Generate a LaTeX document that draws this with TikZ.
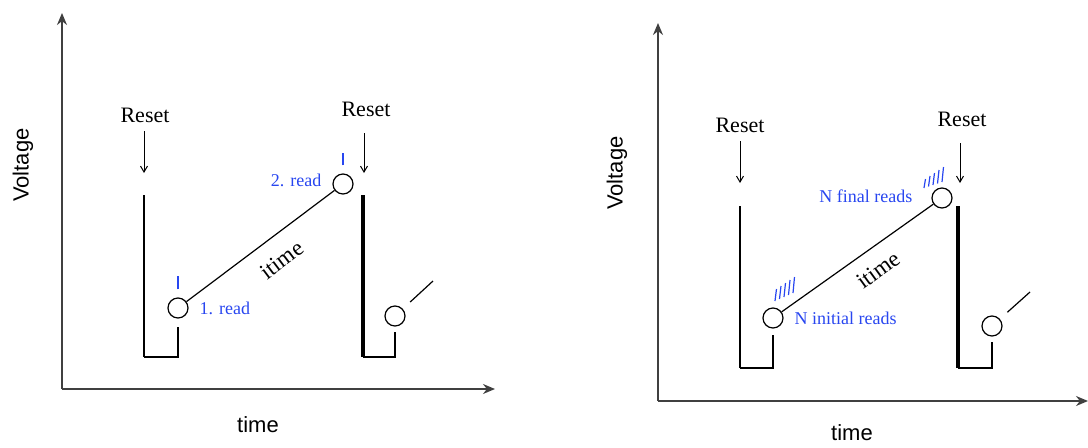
\documentclass[tikz,border=0pt]{standalone}
\usepackage{fontspec}
\setmainfont{Liberation Serif}
\setsansfont{Liberation Sans}
\usetikzlibrary{arrows.meta,positioning}
\definecolor{readblue}{RGB}{40,70,240}

\begin{document}
\begin{tikzpicture}[%
  x=0.5pt, y=0.5pt,
  axis/.style={draw=black!75, line width=0.7pt, -{Stealth[length=6pt,width=5pt]}},
  axislabel/.style={font=\sffamily\fontsize{11}{13}\selectfont},
  resetlabel/.style={font=\fontsize{11}{13}\selectfont},
  resetarrow/.style={line width=0.5pt, shorten <=1pt, -{Straight Barb[length=3pt,width=3.5pt]}},
  wire/.style={line width=0.6pt},
  bar/.style={line width=1pt},
  fatbar/.style={line width=1.6pt},
  pixel/.style={circle, draw, line width=0.6pt, minimum size=10pt, inner sep=0pt},
  rlabel/.style={font=\fontsize{9}{11}\selectfont, text=readblue},
  tick/.style={draw=readblue, line width=0.6pt},
  tlabel/.style={font=\fontsize{11.5}{13}\selectfont}]
\useasboundingbox (0,0) rectangle (1088,447);

% single reads
\begin{scope}[shift={(62,58)}]
  \coordinate (L-o) at (0,0);
  \coordinate (L-y) at (0,376);
  \coordinate (L-x) at (433,0);
  \draw[axis] (L-o) -- (L-y);
  \draw[axis] (L-o) -- (L-x);
  \node[axislabel, rotate=90] (L-volt) at (-39,224) {Voltage};
  \node[axislabel] (L-time) at (196,-36) {time};
  \node[resetlabel] (L-rs1) at (83,274) {Reset};
  \coordinate (L-a1) at (82,216);
  \draw[resetarrow] (L-rs1.south -| L-a1) -- (L-a1);
  \coordinate (L-t1) at (82,194);
  \coordinate (L-b1) at (82,32);
  \coordinate (L-b1r) at (116,32);
  \coordinate (L-u1) at (116,62);
  \draw[bar] (L-t1) -- (L-b1);
  \draw[wire] (L-b1) -- (L-b1r) -- (L-u1);
  \node[pixel] (L-c1) at (116,81) {};
  \node[pixel] (L-c2) at (281,205) {};
  \draw[wire] (L-c1) -- (L-c2);
  \node[tlabel, rotate=37] (L-itime) at (220,129) {itime};
  \draw[tick] ([yshift=4pt]L-c1.north) -- ++(0,13);
  \draw[tick] ([yshift=4pt]L-c2.north) -- ++(0,12);
  \node[rlabel, right=2pt of L-c1] (L-rd1) {1. read};
  \node[rlabel, left=2pt of L-c2, yshift=2pt] (L-rd2) {2. read};
  \node[resetlabel] (L-rs2) at (304,280) {Reset};
  \coordinate (L-a2) at (302,216);
  \draw[resetarrow, shorten <=5pt] (L-rs2.south -| L-a2) -- (L-a2);
  \coordinate (L-t2) at (301,194);
  \coordinate (L-b2) at (301,32);
  \coordinate (L-b2r) at (333,32);
  \coordinate (L-u2) at (333,57);
  \draw[fatbar] (L-t2) -- (L-b2);
  \draw[wire] (L-b2) -- (L-b2r) -- (L-u2);
  \node[pixel] (L-c3) at (333,73) {};
  \coordinate (L-s) at (371,108);
  \draw[wire, shorten <=5pt] (L-c3) -- (L-s);
\end{scope}

% multiple reads
\begin{scope}[shift={(658,46)}]
  \coordinate (R-o) at (0,0);
  \coordinate (R-y) at (0,378);
  \coordinate (R-x) at (430,0);
  \draw[axis] (R-o) -- (R-y);
  \draw[axis] (R-o) -- (R-x);
  \node[axislabel, rotate=90] (R-volt) at (-41,228) {Voltage};
  \node[axislabel] (R-time) at (194,-32) {time};
  \node[resetlabel] (R-rs1) at (82,276) {Reset};
  \coordinate (R-a1) at (82,218);
  \draw[resetarrow] (R-rs1.south -| R-a1) -- (R-a1);
  \coordinate (R-t1) at (82,195);
  \coordinate (R-b1) at (82,33);
  \coordinate (R-b1r) at (115,33);
  \coordinate (R-u1) at (115,66);
  \draw[bar] (R-t1) -- (R-b1);
  \draw[wire] (R-b1) -- (R-b1r) -- (R-u1);
  \node[pixel] (R-c1) at (115,83) {};
  \node[pixel] (R-c2) at (284,203) {};
  \draw[wire] (R-c1) -- (R-c2);
  \node[tlabel, rotate=36] (R-itime) at (220,131) {itime};
  \foreach \i in {0,...,4} {
    \draw[tick] ([shift={(2+4.5*\i,17+2*\i)}]R-c1.center) -- ++(1.5,12+\i);
    \draw[tick] ([shift={(-18+4.5*\i,10+1.5*\i)}]R-c2.center) -- ++(1.5,9+1.5*\i);
  }
  \node[rlabel, right=2pt of R-c1] (R-rd1) {N initial reads};
  \node[rlabel, left=6pt of R-c2, yshift=1pt] (R-rd2) {N final reads};
  \node[resetlabel] (R-rs2) at (304,282) {Reset};
  \coordinate (R-a2) at (302,218);
  \draw[resetarrow, shorten <=5pt] (R-rs2.south -| R-a2) -- (R-a2);
  \coordinate (R-t2) at (300,195);
  \coordinate (R-b2) at (300,33);
  \coordinate (R-b2r) at (334,33);
  \coordinate (R-u2) at (334,59);
  \draw[fatbar] (R-t2) -- (R-b2);
  \draw[wire] (R-b2) -- (R-b2r) -- (R-u2);
  \node[pixel] (R-c3) at (334,75) {};
  \coordinate (R-s) at (372,109);
  \draw[wire, shorten <=5pt] (R-c3) -- (R-s);
\end{scope}
\end{tikzpicture}
\end{document}
